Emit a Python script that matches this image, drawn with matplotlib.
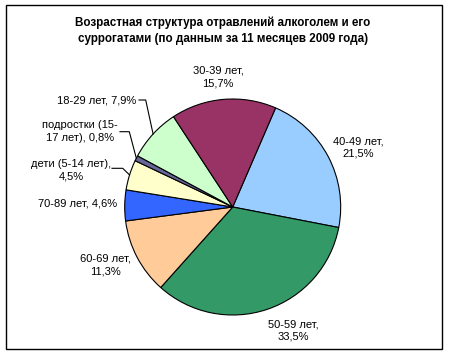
import numpy as np
import matplotlib
matplotlib.use("Agg")
import matplotlib.pyplot as plt
from matplotlib.patches import Rectangle

plt.rcParams['font.family'] = ['Liberation Sans', 'DejaVu Sans']

# data, in drawing order (clockwise from the top right)
groups = ['40-49 лет', '50-59 лет', '60-69 лет', '70-89 лет',
          'дети (5-14 лет)', 'подростки (15-17 лет)', '18-29 лет', '30-39 лет']
shares = [21.5, 33.5, 11.3, 4.6, 4.5, 0.8, 7.9, 15.7]
label_texts = ['40-49 лет,\n21,5%', '50-59 лет,\n33,5%', '60-69 лет,\n11,3%',
               '70-89 лет, 4,6%', 'дети (5-14 лет),\n4,5%',
               'подростки (15-\n17 лет), 0,8%', '18-29 лет, 7,9%',
               '30-39 лет,\n15,7%']
colors = ['#99CCFF', '#339966', '#FFCC99', '#3366FF',
          '#FFFFCC', '#666699', '#CCFFCC', '#993366']

title = 'Возрастная структура отравлений алкоголем и его\nсуррогатами (по данным за 11 месяцев 2009 года)'

# layout in pixels (figure is 449x355)
W, H = 449, 355
cx, cy, R = 232.7, 207.0, 108.0
label_pos = [(358, 147.5), (293, 330.5), (105, 265), (78, 204),
             (71, 170), (80, 131.5), (97, 100.7), (218, 77)]
# leader lines: index -> (elbow point, text end point)
leaders = {4: ((122.7, 168.3), (112.0, 168.3)),
           5: ((129.3, 131.7), (120.0, 131.7)),
           6: ((145.7, 100.0), (139.0, 100.0))}


def px(p):
    # pixel position -> data coords of the pie axes
    return ((p[0] - cx) / R, (cy - p[1]) / R)


fig = plt.figure(figsize=(W / 100, H / 100), dpi=100)
ax = fig.add_axes([0, 0, 1, 1])

wedges, _ = ax.pie(shares, colors=colors, startangle=66.6, counterclock=False,
                   radius=1.0, wedgeprops=dict(edgecolor='black', linewidth=0.8))
ax.set_aspect('auto')
ax.set_xlim(-cx / R, (W - cx) / R)
ax.set_ylim(-(H - cy) / R, cy / R)
ax.axis('off')

for i, txt in enumerate(label_texts):
    x, y = px(label_pos[i])
    ax.text(x, y, txt, ha='center', va='center', fontsize=8.0,
            linespacing=1.35, multialignment='center')

for i, (elbow, end) in leaders.items():
    w = wedges[i]
    mid = np.deg2rad((w.theta1 + w.theta2) / 2)
    e = px(elbow)
    t = px(end)
    ax.plot([np.cos(mid), e[0], t[0]], [np.sin(mid), e[1], t[1]],
            color='black', linewidth=0.8)

fig.text(223 / W, 1 - 31 / H, title, ha='center', va='center',
         fontsize=8.4, fontweight='bold', linespacing=1.4)

fig.patches.append(Rectangle((6 / W, 6 / H), 436 / W, 344 / H,
                             transform=fig.transFigure, fill=False,
                             edgecolor='black', linewidth=1.0))

fig.savefig('out.png', dpi=100, facecolor='white')
